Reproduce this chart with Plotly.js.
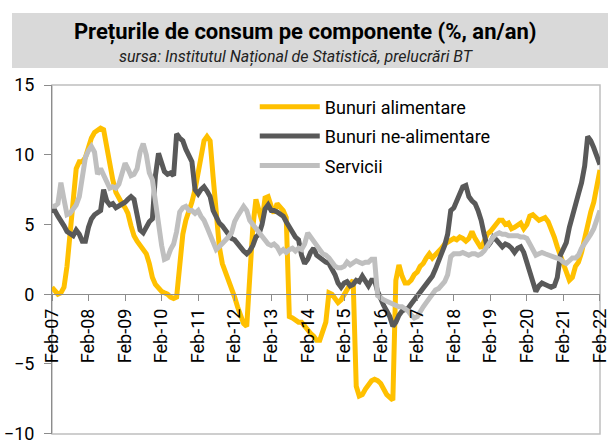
<!DOCTYPE html>
<html>
<head>
<meta charset="utf-8">
<script src="https://cdn.plot.ly/plotly-3.0.1.min.js"></script>
<style>html,body{margin:0;padding:0;background:#fff;}#chart{width:608px;height:440px;}</style>
</head>
<body>
<div id="chart"></div>
<script>
// Monthly series, Feb-2007 ... Feb-2022 (one row per year, Feb..Jan)
const seriesNames = ["Bunuri alimentare", "Bunuri ne-alimentare", "Servicii"];
const seriesColors = ["#FFC000", "#595959", "#BFBFBF"];

const alimentare = [
  0.5,0.2,0.0,0.1,0.5,2.0,4.5,7.0,9.0,9.5,9.5,9.8,
  10.6,11.2,11.6,11.8,11.9,11.8,10.5,9.0,8.2,7.3,6.8,6.5,
  6.2,5.8,4.9,4.2,3.8,3.5,3.3,2.9,2.2,1.2,0.7,0.4,
  0.2,0.1,0.0,-0.2,-0.3,-0.2,2.0,4.3,5.3,5.9,6.6,7.5,
  8.8,10.0,11.0,11.3,11.0,8.4,5.5,3.4,2.2,1.6,1.1,0.6,
  -0.2,-0.9,-1.5,-2.1,-2.3,1.0,4.8,6.8,6.0,5.2,6.9,7.0,
  6.3,5.8,6.5,6.3,6.0,5.5,-1.6,-1.7,-1.8,-2.0,-2.0,-2.3,
  -2.5,-2.8,-3.0,-3.3,-3.3,-2.5,-2.0,0.1,0.0,-0.3,-0.6,-0.4,
  0.0,0.4,0.7,1.0,-6.6,-7.3,-7.2,-6.8,-6.5,-6.2,-6.1,-6.2,
  -6.4,-6.8,-7.2,-7.4,-7.6,1.0,2.1,1.3,0.8,0.8,1.0,1.4,
  1.6,2.0,2.2,2.6,2.9,2.6,2.8,3.0,3.3,3.6,3.7,3.9,
  4.0,3.9,4.1,4.0,3.8,4.0,4.5,4.0,3.7,3.3,3.8,4.3,
  4.5,4.8,5.0,5.3,5.3,5.0,5.1,4.7,4.8,5.0,5.1,4.7,
  5.0,5.6,5.7,5.5,5.3,5.4,5.5,5.2,4.7,4.1,3.4,2.8,
  2.2,1.7,1.0,1.2,2.0,2.3,3.0,4.0,5.0,5.9,6.6,7.8,
  8.9
];
const neAlimentare = [
  6.0,6.0,5.6,5.3,4.9,4.5,4.3,4.2,4.6,4.3,3.8,3.8,
  4.8,5.4,5.7,5.8,6.0,7.5,6.7,6.4,6.5,6.2,6.3,6.4,
  6.6,6.8,7.0,6.8,5.5,4.6,4.4,4.8,5.2,5.4,8.5,10.1,
  9.3,8.8,8.6,8.7,8.5,11.5,11.2,11.0,10.4,10.0,9.5,7.5,
  7.2,7.5,7.7,7.4,7.0,6.0,5.5,5.1,4.9,4.6,4.3,4.0,
  3.9,3.6,3.4,3.1,2.9,3.1,3.5,4.1,4.3,5.0,6.1,6.4,
  6.0,6.0,5.9,5.8,5.6,5.2,4.8,4.4,4.1,3.9,2.8,2.2,
  2.5,3.0,3.3,2.8,2.6,2.5,2.3,2.2,1.8,1.4,0.8,0.5,
  0.8,0.9,0.6,0.7,1.0,0.9,1.3,0.9,0.6,1.0,1.0,0.2,
  -0.4,-0.8,-1.2,-1.6,-2.3,-2.0,-1.5,-1.2,-1.1,-1.0,-0.7,-0.4,
  -0.1,0.2,0.4,0.7,1.0,1.3,1.8,2.3,2.8,3.5,4.3,6.0,
  6.2,6.7,7.1,7.7,7.8,7.0,6.7,6.5,6.0,5.3,4.3,3.4,
  3.7,4.1,3.9,3.6,3.4,3.6,3.5,3.3,3.0,3.3,3.4,3.0,
  2.3,1.6,0.9,0.2,0.6,0.8,0.7,0.6,0.5,0.6,1.2,2.8,
  3.3,3.7,4.8,5.5,6.4,7.2,8.0,9.2,11.3,11.0,10.5,10.0,
  9.3
];
const servicii = [
  6.3,6.3,6.5,8.0,6.8,5.7,5.8,6.1,6.4,7.0,8.7,9.8,
  10.3,10.6,10.2,8.6,9.0,8.6,8.0,7.6,7.7,7.6,7.9,8.8,
  9.4,9.0,8.5,8.6,9.0,10.2,10.8,10.0,8.7,8.2,6.5,5.0,
  3.5,2.5,2.6,3.2,3.6,4.5,5.9,6.2,6.3,6.0,6.0,5.8,
  6.0,5.6,5.3,4.8,4.2,3.6,3.2,3.4,3.6,3.8,4.1,4.4,
  5.2,5.6,6.0,6.3,6.0,5.3,5.0,4.7,4.4,4.1,3.9,3.6,
  3.5,3.6,3.4,3.0,3.2,3.0,3.2,3.3,3.1,3.3,3.2,3.6,
  4.4,4.1,3.7,3.4,3.2,2.9,2.8,2.6,2.3,2.0,1.9,1.9,
  2.0,2.3,2.1,2.2,2.4,2.3,2.2,2.3,2.3,2.5,2.5,-0.1,
  -0.3,-0.4,-0.5,-0.6,-0.7,-0.8,-0.9,-0.9,-1.0,-1.2,-1.5,-1.7,
  -1.6,-1.2,-0.9,-0.6,-0.3,0.0,0.3,0.4,0.6,0.9,1.4,2.7,
  2.9,2.9,2.9,3.0,2.9,2.8,2.9,2.9,2.8,2.9,3.1,3.5,
  3.8,4.1,4.3,4.4,4.3,4.3,4.2,4.2,4.2,4.2,4.1,4.1,
  4.0,3.6,3.2,2.8,2.9,3.0,2.9,2.8,2.8,2.7,2.6,2.5,
  2.3,2.2,2.4,2.6,2.6,2.8,3.3,3.6,3.9,4.3,4.7,5.3,
  6.0
];

const startYear = 2007, startMonth = 2; // Feb-2007
const yTickVals = [-10, -5, 0, 5, 10, 15];
const titleText = "<b>Prețurile de consum pe componente (%, an/an)</b>";
const subtitleText = "<i>sursa: Institutul Național de Statistică, prelucrări BT</i>";

function monthDates(n) {
  const out = [];
  for (let i = 0; i < n; i++) {
    const t = (startMonth - 1) + i;
    const y = startYear + Math.floor(t / 12);
    const m = (t % 12) + 1;
    out.push(y + "-" + String(m).padStart(2, "0") + "-01");
  }
  return out;
}
const dates = monthDates(alimentare.length);
const allSeries = [alimentare, neAlimentare, servicii];

const traces = allSeries.map((vals, i) => ({
  type: "scatter", mode: "lines",
  x: dates, y: vals, name: seriesNames[i],
  legendgroup: "g" + i,
  line: { color: seriesColors[i], width: 5 },
  hoverinfo: "skip"
}));

const font = "Roboto, 'Liberation Sans', sans-serif";

const layout = {
  width: 608, height: 440,
  margin: { l: 52, r: 8, t: 85, b: 6, pad: 0 },
  paper_bgcolor: "#ffffff", plot_bgcolor: "#ffffff",
  font: { family: font, size: 18, color: "#000" },
  title: {
    text: titleText,
    font: { family: font, size: 22, color: "#000" },
    x: 0.502, xanchor: "center", xref: "container",
    y: 0.93, yref: "container", yanchor: "middle"
  },
  annotations: [
    { text: subtitleText, xref: "paper", yref: "paper", x: 0.447, y: 1.080,
      xanchor: "center", yanchor: "middle", showarrow: false,
      font: { family: font, size: 16, color: "#222" } }
  ],
  showlegend: true,
  legend: {
    x: 0.37, xanchor: "left", y: 0.99, yanchor: "top",
    bgcolor: "rgba(0,0,0,0)", borderwidth: 0,
    font: { family: font, size: 18, color: "#000" },
    traceorder: "grouped", tracegroupgap: 3, itemwidth: 60
  },
  xaxis: {
    type: "date",
    range: [dates[0], "2022-02-01 06:00"],
    anchor: "free", position: 0.4,
    tickformat: "%b-%y", tick0: dates[0], dtick: "M12",
    tickangle: -90, ticklabeloverflow: "allow",
    ticks: "outside", ticklen: 6, tickcolor: "#8c8c8c", tickwidth: 1,
    showline: true, linecolor: "#8c8c8c", linewidth: 1,
    showgrid: false, zeroline: false,
    tickfont: { family: font, size: 18, color: "#000" },
    automargin: false
  },
  yaxis: {
    range: [-10.02, 15.0], tickvals: yTickVals, ticklabeloverflow: "allow",
    ticks: "outside", ticklen: 7, tickcolor: "#8c8c8c", tickwidth: 1,
    showline: true, linecolor: "#8c8c8c", linewidth: 1,
    showgrid: false, zeroline: false,
    tickfont: { family: font, size: 18, color: "#000" },
    ticklabelstandoff: 6,
    automargin: false
  },
  shapes: [
    { type: "rect", xref: "paper", yref: "paper", x0: -0.073, x1: 1.02, y0: 1.049, y1: 1.206,
      fillcolor: "#D9D9D9", line: { width: 0 }, layer: "below" },
    { type: "rect", xref: "paper", yref: "paper", x0: 0, x1: 1, y0: 0, y1: 1,
      line: { color: "#BFBFBF", width: 1.5 }, layer: "below" }
  ]
};

Plotly.newPlot("chart", traces, layout, { staticPlot: true, displayModeBar: false });
</script>
</body>
</html>
